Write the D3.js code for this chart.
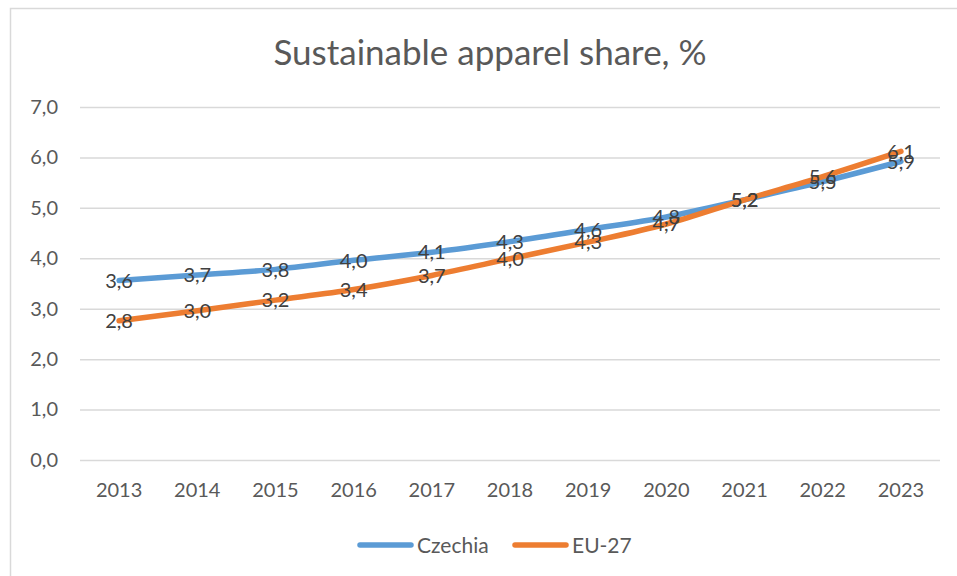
<!DOCTYPE html>
<html>
<head>
<meta charset="utf-8">
<script src="https://cdn.jsdelivr.net/npm/d3@7"></script>
<style>
  body { margin: 0; background: #fff; }
  svg { display: block; font-family: Lato, "Open Sans", sans-serif; }
</style>
</head>
<body>
<svg id="chart" width="957" height="576"></svg>
<script>
var years = ["2013", "2014", "2015", "2016", "2017", "2018", "2019", "2020", "2021", "2022", "2023"];
var czechia = [3.56, 3.67, 3.78, 3.96, 4.12, 4.33, 4.57, 4.82, 5.16, 5.52, 5.92];
var eu27 = [2.76, 2.96, 3.17, 3.38, 3.66, 3.99, 4.32, 4.68, 5.16, 5.62, 6.12];
var yTicks = [0, 1, 2, 3, 4, 5, 6, 7];
var seriesNames = ["Czechia", "EU-27"];
var colors = ["#5b9bd5", "#ed7d31"];

var svg = d3.select("#chart");
var w = 957, h = 576;
var margin = { left: 80, right: 17, top: 107, bottom: 116 };
var fmt = function(v) { return v.toFixed(1).replace(".", ","); };

// chart frame
svg.append("rect")
  .attr("x", 10.5).attr("y", 8.5)
  .attr("width", 980).attr("height", 600)
  .attr("fill", "#fff").attr("stroke", "#d9d9d9").attr("stroke-width", 1.5);

svg.append("text")
  .attr("x", 490).attr("y", 65)
  .attr("text-anchor", "middle")
  .attr("font-size", 35)
  .attr("fill", "#595959")
  .text("Sustainable apparel share, %");

var x = d3.scaleBand().domain(years).range([margin.left, w - margin.right]);
var y = d3.scaleLinear().domain([0, 7]).range([h - margin.bottom, margin.top]);

// gridlines + y labels
svg.append("g")
  .attr("transform", `translate(${margin.left},0)`)
  .call(d3.axisLeft(y).tickValues(yTicks).tickSize(-(w - margin.left - margin.right)).tickFormat(fmt).tickPadding(22))
  .call(g => g.select(".domain").remove())
  .call(g => g.selectAll(".tick line").attr("stroke", "#d9d9d9").attr("stroke-width", 1.5))
  .call(g => g.selectAll(".tick text").attr("fill", "#595959").attr("font-size", 20).attr("font-family", "Lato, sans-serif"));

svg.append("g")
  .attr("transform", `translate(0,${h - margin.bottom})`)
  .call(d3.axisBottom(x).tickSize(0).tickPadding(23))
  .call(g => g.select(".domain").remove())
  .call(g => g.selectAll(".tick text").attr("fill", "#595959").attr("font-size", 20).attr("font-family", "Lato, sans-serif"));

var line = d3.line()
  .curve(d3.curveMonotoneX)
  .x((d, i) => x(years[i]) + x.bandwidth() / 2)
  .y(d => y(d));

var series = [czechia, eu27];
series.forEach(function(vals, k) {
  svg.append("path")
    .attr("d", line(vals))
    .attr("fill", "none")
    .attr("stroke", colors[k])
    .attr("stroke-width", 5.5)
    .attr("stroke-linecap", "round");
});

series.forEach(function(vals) {
  svg.append("g")
    .selectAll("text")
    .data(vals)
    .enter()
    .append("text")
    .attr("x", (d, i) => x(years[i]) + x.bandwidth() / 2)
    .attr("y", d => y(d))
    .attr("dy", "0.36em")
    .attr("text-anchor", "middle")
    .attr("font-size", 20)
    .attr("fill", "#404040")
    .text(d => fmt(d));
});

// legend
var legend = svg.append("g").attr("transform", "translate(358,545)");
var legX = [0, 155];
seriesNames.forEach(function(name, k) {
  var g = legend.append("g").attr("transform", `translate(${legX[k]},0)`);
  g.append("line")
    .attr("x1", 2).attr("x2", 53)
    .attr("stroke", colors[k]).attr("stroke-width", 5.5).attr("stroke-linecap", "round");
  g.append("text")
    .attr("x", 59).attr("dy", "0.36em")
    .attr("font-size", 21).attr("fill", "#595959")
    .text(name);
});
</script>
</body>
</html>
